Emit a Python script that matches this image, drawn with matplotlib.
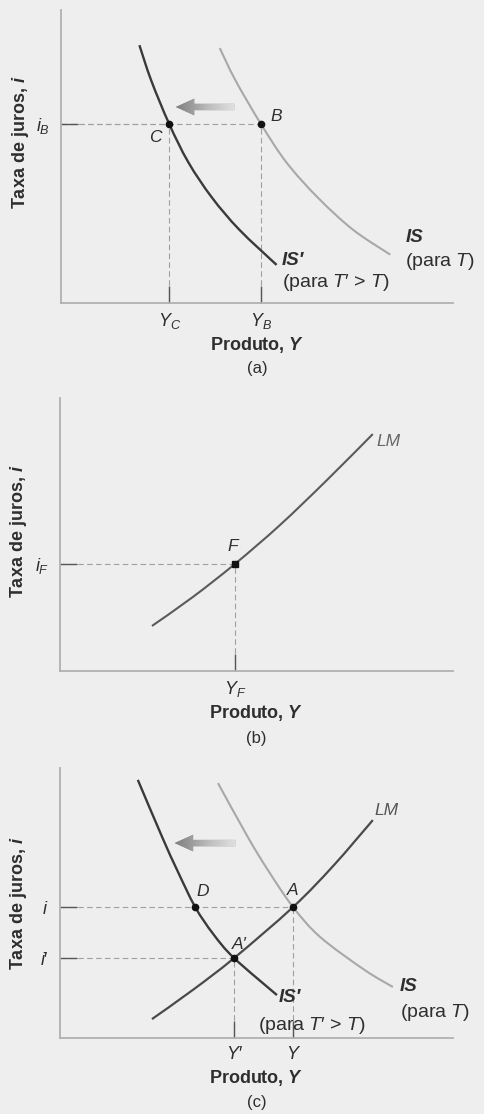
import numpy as np
import matplotlib
matplotlib.use('Agg')
import matplotlib.pyplot as plt
from matplotlib.patches import FancyArrowPatch, PathPatch
from matplotlib.path import Path

plt.rcParams['font.family'] = ['Liberation Sans', 'DejaVu Sans']
plt.rcParams['mathtext.fontset'] = 'custom'
plt.rcParams['mathtext.rm'] = 'Liberation Sans'
plt.rcParams['mathtext.it'] = 'Liberation Sans:italic'
plt.rcParams['mathtext.bf'] = 'Liberation Sans:bold'
plt.rcParams['mathtext.bfit'] = 'Liberation Sans:italic:bold'

# all values in axis units (0-100 on both axes)
# (a) higher taxes shift IS to the left
is_a_x = [40.5, 44.5, 51.0, 57.5, 65.5, 74.5, 84.0]
is_a_y = [87.0, 76.0, 61.1, 48.0, 36.0, 25.0, 16.5]
is1_a_x = [20.0, 23.0, 27.6, 32.5, 38.5, 45.5, 55.0]
is1_a_y = [88.0, 76.0, 61.1, 48.0, 36.0, 25.0, 13.0]
pts_a_x = [27.6, 51.0]
pts_a_y = [61.1, 61.1]
pts_a_names = ['C', 'B']
xticks_a = ['$Y_C$', '$Y_B$']
yticks_a = ['$i_B$']
shift_a = (44.9, 28.6, 66.9)

# (b) LM curve
lm_b_x = [23.4, 33.8, 44.5, 56.0, 67.9, 79.6]
lm_b_y = [16.5, 27.1, 39.2, 53.5, 69.9, 86.8]
pts_b_x = [44.5]
pts_b_y = [39.2]
xticks_b = ['$Y_F$']
yticks_b = ['$i_F$']

# (c) IS-LM after the tax increase
is_c_x = [40.2, 47.8, 52.9, 59.3, 66.2, 77.5, 84.7]
is_c_y = [94.4, 74.4, 62.2, 48.5, 37.4, 25.2, 18.9]
is1_c_x = [19.8, 26.0, 29.8, 34.4, 39.0, 44.3, 55.2]
is1_c_y = [95.6, 74.4, 62.2, 48.5, 38.5, 29.6, 15.9]
lm_c_x = [23.4, 33.8, 44.3, 59.3, 69.5, 79.6]
lm_c_y = [7.0, 17.8, 29.6, 48.5, 63.7, 80.7]
pts_c_x = [34.4, 59.3, 44.3]
pts_c_y = [48.5, 48.5, 29.6]
pts_c_names = ['D', 'A', 'A′']
xticks_c = ['$Y$′', '$Y$']
yticks_c = ['$i$', '$i$′']
shift_c = (45.3, 28.5, 72.2)

DARK = '#3a3a3a'
LIGHT = '#a8a8a8'
GUIDE = '#a0a0a0'
TXT = '#2e2e2e'

W, H = 484, 1114
fig = plt.figure(figsize=(W / 100, H / 100), dpi=100)
fig.patch.set_facecolor('#eeeeee')


def add_panel(left, top, right, bottom):
    ax = fig.add_axes([left / W, 1 - bottom / H, (right - left) / W, (bottom - top) / H])
    ax.set_xlim(0, 100)
    ax.set_ylim(0, 100)
    ax.patch.set_alpha(0)
    for s in ['top', 'right']:
        ax.spines[s].set_visible(False)
    for s in ['left', 'bottom']:
        ax.spines[s].set_color('#b0b0b0')
        ax.spines[s].set_linewidth(1.3)
    ax.tick_params(direction='in', length=12, width=1.0, color='#555555',
                   labelsize=13, labelcolor=TXT)
    ax.tick_params(axis='x', pad=6)
    ax.tick_params(axis='y', pad=8)
    return ax


def curve(ax, xs, ys, **kw):
    # smooth curve through the points (Catmull-Rom as cubic Bezier segments)
    p = np.column_stack([xs, ys])
    verts, codes = [p[0]], [Path.MOVETO]
    for i in range(len(p) - 1):
        p0 = p[i - 1] if i > 0 else p[i]
        p3 = p[i + 2] if i + 2 < len(p) else p[i + 1]
        verts += [p[i] + (p[i + 1] - p0) / 6, p[i + 1] - (p3 - p[i]) / 6, p[i + 1]]
        codes += [Path.CURVE4] * 3
    ax.add_patch(PathPatch(Path(verts, codes), fill=False, capstyle='butt', **kw))


def guides(ax, xs, ys):
    for x, y in zip(xs, ys):
        ax.plot([0, x], [y, y], color=GUIDE, lw=0.8, dashes=(5, 3), zorder=1)
        ax.plot([x, x], [0, y], color=GUIDE, lw=0.8, dashes=(5, 3), zorder=1)


def shift_arrow(ax, x0, x1, y):
    arr = FancyArrowPatch((x0, y), (x1, y),
                          arrowstyle='simple,head_width=1.0,head_length=1.1,tail_width=0.38',
                          mutation_scale=12, lw=0, fc='#8a8a8a', zorder=2)
    ax.add_patch(arr)
    grad = np.linspace(0.62, 0.18, 64).reshape(1, -1)
    im = ax.imshow(grad, extent=(x1 - 1, x0 + 1, y - 5, y + 5), cmap='Greys',
                   vmin=0, vmax=1, aspect='auto', zorder=3)
    im.set_clip_path(arr)
    ax.set_xlim(0, 100)
    ax.set_ylim(0, 100)


def labels(ax, yc, px, cap):
    ax.text(-41 / px, yc, 'Taxa de juros, $\\mathbfit{i}$', rotation=90,
            transform=ax.transAxes, ha='center', va='center',
            fontsize=13, fontweight='bold', color=TXT)
    ax.text(0.5, cap[0], 'Produto, $\\mathbfit{Y}$', transform=ax.transAxes,
            ha='center', va='center', fontsize=13, fontweight='bold', color=TXT)
    ax.text(0.5, cap[1], cap[2], transform=ax.transAxes,
            ha='center', va='center', fontsize=12, color=TXT)


def tag(ax, x, y, s, dx, dy, **kw):
    ax.annotate(s, (x, y), xytext=(dx, dy), textcoords='offset pixels',
                fontsize=kw.pop('fontsize', 12.5), color=kw.pop('color', TXT), **kw)


def is_tags(ax, x1, y1, x0, y0, o):
    tag(ax, x1, y1, 'IS′', o[0], o[1], ha='left', va='center',
        fontweight='bold', style='italic', fontsize=13.5)
    tag(ax, x1, y1, '(para $T$′ > $T$)', o[2], o[3], ha='left', va='center', fontsize=14)
    tag(ax, x0, y0, 'IS', o[4], o[5], ha='left', va='center',
        fontweight='bold', style='italic', fontsize=13.5)
    tag(ax, x0, y0, '(para $T$)', o[6], o[7], ha='left', va='center', fontsize=14)


# ---- (a)
ax = add_panel(61, 10, 453, 303)
guides(ax, pts_a_x, pts_a_y)
curve(ax, is_a_x, is_a_y, color=LIGHT, lw=1.5, zorder=2)
curve(ax, is1_a_x, is1_a_y, color=DARK, lw=1.7, zorder=2)
ax.plot(pts_a_x, pts_a_y, 'o', color='#111111', ms=4.5, zorder=4)
shift_arrow(ax, *shift_a)
ax.set_xticks(pts_a_x, labels=xticks_a)
ax.set_yticks(pts_a_y[:1], labels=yticks_a)
tag(ax, pts_a_x[0], pts_a_y[0], pts_a_names[0], -14, -14, ha='center', va='center', style='italic')
tag(ax, pts_a_x[1], pts_a_y[1], pts_a_names[1], 15, 7, ha='center', va='center', style='italic')
is_tags(ax, is1_a_x[-1], is1_a_y[-1], is_a_x[-1], is_a_y[-1], (5, 4, 5, -18, 15, 17, 15, -7))
labels(ax, 0.55, 392, (-42 / 293, -65 / 293, '(a)'))

# ---- (b)
ax = add_panel(60, 398, 453, 671)
guides(ax, pts_b_x, pts_b_y)
curve(ax, lm_b_x, lm_b_y, color='#5a5a5a', lw=1.5, zorder=2)
ax.plot(pts_b_x, pts_b_y, 's', color='#111111', ms=4, zorder=4)
ax.set_xticks(pts_b_x, labels=xticks_b)
ax.set_yticks(pts_b_y, labels=yticks_b)
tag(ax, pts_b_x[0], pts_b_y[0], 'F', -2, 17, ha='center', va='center', style='italic')
tag(ax, lm_b_x[-1], lm_b_y[-1], 'LM', 4, -7, ha='left', va='center',
    style='italic', color='#666666', fontsize=12.5)
labels(ax, 0.51, 393, (-42 / 273, -67 / 273, '(b)'))

# ---- (c)
ax = add_panel(60, 768, 453, 1038)
guides(ax, pts_c_x[1:], pts_c_y[1:])
curve(ax, is_c_x, is_c_y, color=LIGHT, lw=1.5, zorder=2)
curve(ax, is1_c_x, is1_c_y, color=DARK, lw=1.7, zorder=2)
curve(ax, lm_c_x, lm_c_y, color='#4a4a4a', lw=1.6, zorder=2)
ax.plot(pts_c_x, pts_c_y, 'o', color='#111111', ms=4.5, zorder=4)
shift_arrow(ax, *shift_c)
ax.set_xticks([pts_c_x[2], pts_c_x[1]], labels=xticks_c)
ax.set_yticks([pts_c_y[1], pts_c_y[2]], labels=yticks_c)
tag(ax, pts_c_x[0], pts_c_y[0], pts_c_names[0], 8, 16, ha='center', va='center', style='italic')
tag(ax, pts_c_x[1], pts_c_y[1], pts_c_names[1], 0, 17, ha='center', va='center', style='italic')
tag(ax, pts_c_x[2], pts_c_y[2], pts_c_names[2], 5, 14, ha='center', va='center', style='italic')
is_tags(ax, is1_c_x[-1], is1_c_y[-1], is_c_x[-1], is_c_y[-1], (2, -2, -19, -30, 7, 0, 7, -26))
tag(ax, lm_c_x[-1], lm_c_y[-1], 'LM', 2, 10, ha='left', va='center',
    style='italic', color='#555555', fontsize=12.5)
labels(ax, 0.50, 393, (-40 / 270, -64 / 270, '(c)'))

fig.savefig('out.png', dpi=100, facecolor=fig.get_facecolor())
